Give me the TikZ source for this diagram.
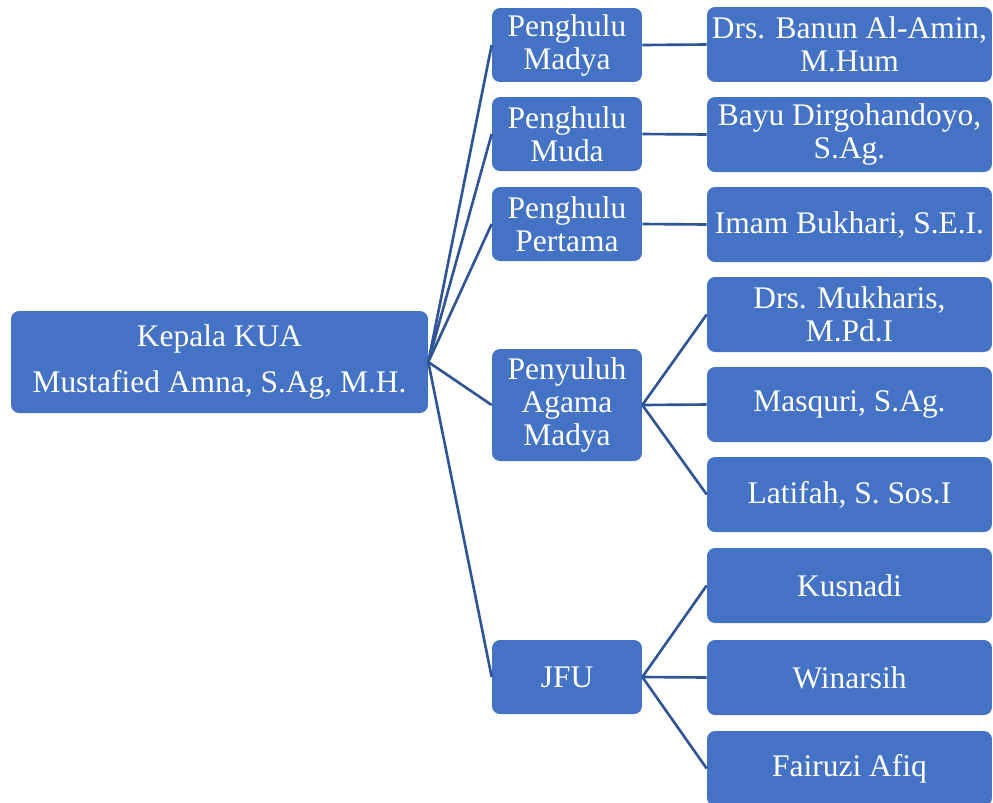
\documentclass[tikz,border=0pt]{standalone}
\usepackage{fontspec}
\setmainfont{Liberation Serif}
\usetikzlibrary{positioning}
\definecolor{boxblue}{RGB}{68,114,196}
\definecolor{lineblue}{RGB}{47,85,151}

\begin{document}
\begin{tikzpicture}[x=0.02cm, y=-0.02cm,
    unit/.style={fill=boxblue, rounded corners=0.16cm, text=white, align=center,
      inner sep=0pt, font=\fontsize{17.9}{18.8}\selectfont},
    jabatan/.style={unit, minimum width=3cm, minimum height=1.48cm},
    staf/.style={unit, minimum width=5.7cm, minimum height=1.5cm},
    garis/.style={draw=lineblue, line width=1.5pt}]

    \clip (0,0) rectangle (993,802);

    % Kepala
    \node[unit, minimum width=8.34cm, minimum height=2.04cm] (kepala) at (219.5,362)
      {Kepala KUA\\[7pt]Mustafied Amna, S.Ag, M.H.};

    % Jabatan
    \node[jabatan] (madya) at (567,45) {Penghulu\\Madya};
    \node[jabatan] (muda) at (567,134) {Penghulu\\Muda};
    \node[jabatan] (pertama) at (567,224) {Penghulu\\Pertama};
    \node[jabatan, minimum height=2.24cm] (penyuluh) at (567,405) {Penyuluh\\Agama\\Madya};
    \node[jabatan] (jfu) at (567,677) {JFU};

    % Staf
    \node[staf] (banun) at (849.5,44.5) {Drs. Banun Al-Amin,\\M.Hum};
    \node[staf] (bayu) at (849.5,134.5) {Bayu Dirgohandoyo,\\S.Ag.};
    \node[staf] (imam) at (849.5,224.5) {Imam Bukhari, S.E.I.};
    \node[staf] (mukharis) at (849.5,314.5) {Drs. Mukharis,\\M.Pd.I};
    \node[staf] (masquri) at (849.5,404.5) {Masquri, S.Ag.};
    \node[staf] (latifah) at (849.5,494.5) {Latifah, S. Sos.I};
    \node[staf] (kusnadi) at (849.5,585.5) {Kusnadi};
    \node[staf] (winarsih) at (849.5,677.5) {Winarsih};
    \node[staf] (fairuzi) at (849.5,768.5) {Fairuzi Afiq};

    % Edges
    \foreach \x in {madya,muda,pertama,penyuluh,jfu} \draw[garis] (kepala.east) -- (\x.west);

    \draw[garis] (madya.east) -- (banun.west);
    \draw[garis] (muda.east) -- (bayu.west);
    \draw[garis] (pertama.east) -- (imam.west);

    % (penyuluh,b)
    \foreach \x in {mukharis,masquri,latifah} \draw[garis] (penyuluh.east) -- (\x.west);

    % (jfu,b)
    \foreach \x in {kusnadi,winarsih,fairuzi} \draw[garis] (jfu.east) -- (\x.west);

\end{tikzpicture}
\end{document}
